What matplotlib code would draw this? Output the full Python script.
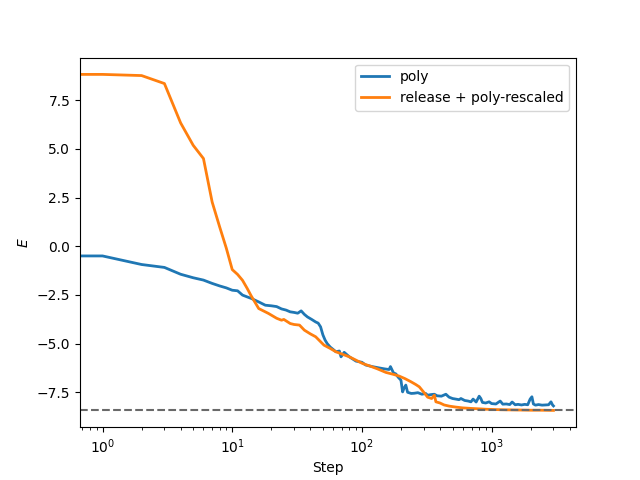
import matplotlib

matplotlib.use("Agg")
import matplotlib.pyplot as plt

# energy traces (step, E)
poly_steps = [
    0, 1, 2, 3, 4, 5, 6, 7, 8, 9, 10, 11, 12, 13, 14, 16, 18, 20, 22, 24,
    26, 28, 30, 32, 34, 36, 38, 41, 44, 46, 48, 50, 52, 54, 57, 60, 63, 67,
    69, 73, 80, 90, 100, 107, 120, 136, 150, 162, 166, 175, 183, 190, 200,
    206, 211, 218, 225, 240, 253, 270, 290, 310, 321, 340, 362, 380, 410,
    444, 470, 500, 530, 561, 580, 620, 660, 693, 720, 760, 802, 826, 850,
    900, 957, 1000, 1080, 1165, 1220, 1300, 1380, 1440, 1520, 1600, 1700,
    1800, 1900, 1982, 2046, 2100, 2180, 2300, 2450, 2600, 2750, 2870, 2950,
    2999,
]
poly_E = [
    -0.50, -0.50, -0.94, -1.09, -1.44, -1.62, -1.74, -1.91, -2.04, -2.14,
    -2.26, -2.29, -2.51, -2.60, -2.68, -2.86, -3.03, -3.06, -3.10, -3.22,
    -3.28, -3.37, -3.40, -3.44, -3.32, -3.50, -3.63, -3.76, -3.89, -3.95,
    -4.14, -4.55, -4.82, -5.00, -5.18, -5.30, -5.42, -5.38, -5.68, -5.45,
    -5.68, -5.90, -5.96, -6.10, -6.18, -6.25, -6.30, -6.33, -6.18, -6.50,
    -6.56, -6.72, -6.88, -7.48, -7.30, -7.13, -7.50, -7.56, -7.55, -7.52,
    -7.60, -7.56, -7.65, -7.62, -7.60, -7.68, -7.70, -7.60, -7.75, -7.82,
    -7.85, -7.88, -7.82, -7.92, -7.95, -7.99, -7.85, -8.00, -7.70, -7.82,
    -8.02, -8.05, -7.99, -8.08, -8.10, -7.95, -8.11, -8.10, -8.13, -8.00,
    -8.14, -8.12, -8.15, -8.12, -8.14, -7.85, -7.73, -8.10, -8.16, -8.13,
    -8.16, -8.15, -8.14, -7.99, -8.15, -8.20,
]

rel_steps = [
    0, 1, 2, 3, 4, 5, 6, 7, 8, 9, 10, 11, 12, 13, 14, 16, 19, 22, 24, 25,
    28, 30, 33, 36, 40, 44, 51, 57, 63, 71, 80, 90, 101, 115, 132, 153, 175,
    194, 215, 239, 260, 277, 300, 321, 345, 362, 372, 400, 430, 471, 530,
    597, 700, 800, 904, 1100, 1300, 1633, 2000, 2400, 2999,
]
rel_E = [
    8.82, 8.82, 8.76, 8.35, 6.33, 5.18, 4.50, 2.27, 0.99, -0.10, -1.20,
    -1.45, -1.75, -2.15, -2.55, -3.20, -3.45, -3.70, -3.80, -3.76, -3.97,
    -4.02, -4.05, -4.31, -4.50, -4.65, -5.08, -5.25, -5.42, -5.55, -5.68,
    -5.85, -6.02, -6.15, -6.30, -6.48, -6.58, -6.67, -6.80, -6.96, -7.10,
    -7.22, -7.50, -7.75, -7.82, -7.65, -7.99, -8.05, -8.15, -8.21, -8.26,
    -8.30, -8.33, -8.35, -8.37, -8.39, -8.40, -8.41, -8.42, -8.42, -8.43,
]

E_ref = -8.40

fig, ax = plt.subplots(figsize=(6.4, 4.8), dpi=100)
ax.plot(poly_steps, poly_E, lw=2, label="poly")
ax.plot(rel_steps, rel_E, lw=2, label="release + poly-rescaled")
ax.axhline(E_ref, color="dimgray", ls="--")
ax.set_xscale("log")
ax.set_xlabel("Step")
ax.set_ylabel("$E$")
ax.legend(loc="upper right")

fig.savefig("out.png")
